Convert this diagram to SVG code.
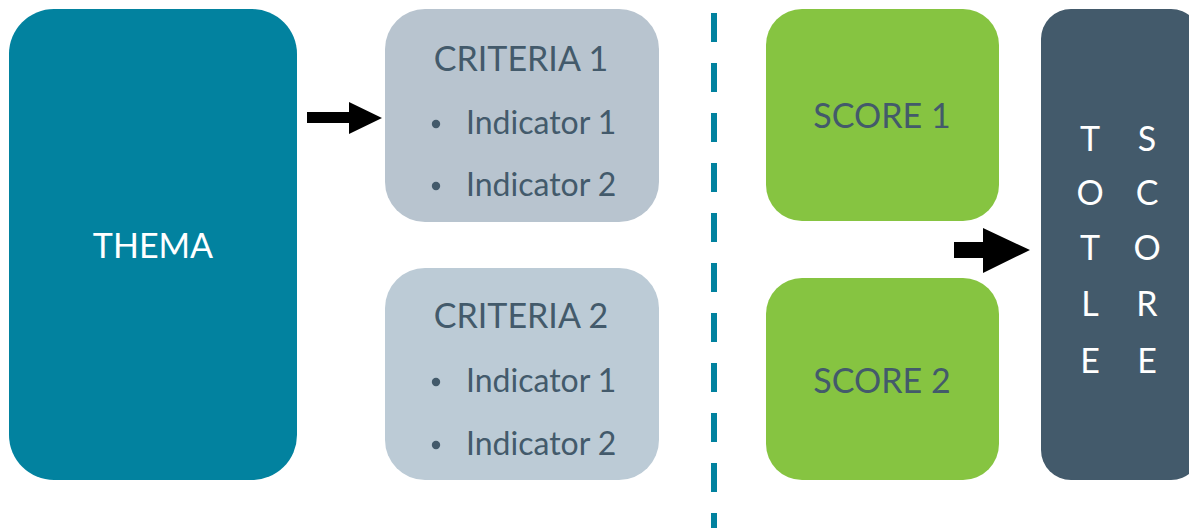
<svg xmlns="http://www.w3.org/2000/svg" width="1189" height="528" viewBox="0 0 1189 528">
  <style>
    text { font-family: Lato, "Open Sans", "Liberation Sans", sans-serif; }
    .light { fill: #ffffff; }
    .dark { fill: #435a6b; }
    .head { font-size: 34px; text-anchor: middle; }
    .item { font-size: 32px; }
    .letter { font-size: 34px; text-anchor: middle; fill: #ffffff; }
  </style>
  <defs>
    <circle id="bullet" r="4.2" fill="#435a6b"/>
  </defs>
  <rect width="1189" height="528" fill="#ffffff"/>

  <!-- divider between criteria and scores -->
  <line x1="714" y1="13" x2="714" y2="528" stroke="#02829f" stroke-width="6" stroke-dasharray="29 21"/>

  <g id="thema">
    <rect x="9" y="9" width="288" height="471" rx="45" fill="#02829f"/>
    <text class="head light" x="153" y="258">THEMA</text>
  </g>

  <g id="criteria1">
    <rect x="385" y="9" width="274" height="213" rx="40" fill="#b8c4cf"/>
    <text class="head dark" x="521" y="71">CRITERIA 1</text>
    <use href="#bullet" x="436" y="124"/>
    <text class="item dark" x="466" y="134">Indicator 1</text>
    <use href="#bullet" x="436" y="186"/>
    <text class="item dark" x="466" y="196">Indicator 2</text>
  </g>

  <g id="criteria2">
    <rect x="385" y="268" width="274" height="212" rx="40" fill="#bccbd6"/>
    <text class="head dark" x="521" y="328">CRITERIA 2</text>
    <use href="#bullet" x="436" y="382"/>
    <text class="item dark" x="466" y="392">Indicator 1</text>
    <use href="#bullet" x="436" y="445"/>
    <text class="item dark" x="466" y="455">Indicator 2</text>
  </g>

  <g id="score1">
    <rect x="766" y="9" width="233" height="212" rx="36" fill="#86c441"/>
    <text class="head dark" x="882" y="128">SCORE 1</text>
  </g>

  <g id="score2">
    <rect x="766" y="278" width="233" height="202" rx="36" fill="#86c441"/>
    <text class="head dark" x="882" y="393">SCORE 2</text>
  </g>

  <g id="total">
    <rect x="1041" y="9" width="160" height="471" rx="30" fill="#435a6b"/>
    <text class="letter" x="1090" y="151">T</text>
    <text class="letter" x="1090" y="205">O</text>
    <text class="letter" x="1090" y="260">T</text>
    <text class="letter" x="1090" y="316">L</text>
    <text class="letter" x="1090" y="373">E</text>
    <text class="letter" x="1147" y="151">S</text>
    <text class="letter" x="1147" y="205">C</text>
    <text class="letter" x="1147" y="260">O</text>
    <text class="letter" x="1147" y="316">R</text>
    <text class="letter" x="1147" y="373">E</text>
  </g>

  <g id="connectors" fill="#000000">
    <polygon points="307,112 349,112 349,102 382,118 349,134 349,123 307,123"/>
    <polygon points="954,242 983,242 983,228 1030,250 983,273 983,258 954,258"/>
  </g>
</svg>
